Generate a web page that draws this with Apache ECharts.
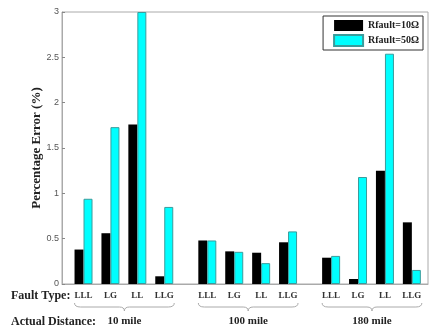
<!DOCTYPE html>
<html><head><meta charset="utf-8">
<script src="https://cdn.jsdelivr.net/npm/echarts@6/dist/echarts.min.js"></script>
<style>html,body{margin:0;padding:0;background:#fff}#c{width:431px;height:331px}</style>
</head><body><div id="c"></div>
<script>
const faultTypes = ['LLL', 'LG', 'LL', 'LLG'];
const distances = ['10 mile', '100 mile', '180 mile'];
const seriesNames = ['Rfault=10Ω', 'Rfault=50Ω'];
const r10 = [0.38, 0.56, 1.76, 0.085, 0.48, 0.36, 0.345, 0.46, 0.29, 0.055, 1.25, 0.68];
const r50 = [0.94, 1.73, 3.0, 0.85, 0.48, 0.355, 0.23, 0.58, 0.31, 1.18, 2.54, 0.155];
const yTicks = [0, 0.5, 1, 1.5, 2, 2.5, 3];

// layout of category slots (units on the x scale)
const groupStep = 4.6;
const pos = [];
const labelOf = [];
distances.forEach((d, g) => faultTypes.forEach((f, i) => { pos.push(+(1 + g * groupStep + i).toFixed(2)); labelOf.push(f); }));

const serif = 'Liberation Serif';
const chart = echarts.init(document.getElementById('c'));
chart.setOption({
  animation: false,
  grid: { left: 62, top: 12, right: 0, bottom: 47, show: true, borderColor: '#aaa', borderWidth: 1 },
  legend: {
    data: seriesNames, orient: 'vertical', right: 8, top: 16, icon: 'rect',
    itemWidth: 29, itemHeight: 11, itemGap: 3, padding: [4, 4, 3, 10],
    borderColor: '#333', borderWidth: 1, backgroundColor: '#fff',
    textStyle: { fontFamily: serif, fontWeight: 'bold', fontSize: 10, color: '#222' }
  },
  xAxis: {
    type: 'value', min: 0.2, max: 13.8, interval: 0.2,
    splitLine: { show: false },
    axisLine: { lineStyle: { color: '#aaa' } },
    axisTick: { show: false },
    axisLabel: {
      margin: 7, color: '#333', fontFamily: serif, fontWeight: 'bold', fontSize: 9,
      showMinLabel: true, showMaxLabel: true, hideOverlap: false,
      formatter: v => { const k = pos.findIndex(p => Math.abs(p - v) < 0.01); return k >= 0 ? labelOf[k] : ''; }
    }
  },
  yAxis: {
    type: 'value', min: 0, max: 3, interval: 0.5,
    name: 'Percentage Error (%)', nameLocation: 'middle', nameGap: 19, nameMoveOverlap: false,
    nameTextStyle: { fontFamily: serif, fontWeight: 'bold', fontSize: 13, color: '#222' },
    splitLine: { show: false },
    axisLine: { lineStyle: { color: '#aaa' } },
    axisTick: { inside: true, length: 3, lineStyle: { color: '#888' } },
    axisLabel: { color: '#555', fontFamily: 'Liberation Sans', fontSize: 9, margin: 3,
      formatter: v => yTicks.includes(v) ? String(v) : '' }
  },
  series: [
    { name: seriesNames[0], type: 'bar', barWidth: 9, barGap: '0%',
      data: pos.map((p, i) => [p, r10[i]]), itemStyle: { color: '#000' } },
    { name: seriesNames[1], type: 'bar', barWidth: 9, barGap: '0%',
      data: pos.map((p, i) => [p, r50[i]]), itemStyle: { color: '#00ffff', borderColor: '#3a9c9c', borderWidth: 1 } }
  ]
});

// annotations: row headings, braces and distance labels
const elements = [];
const txt = (s, x, y, align, size) => ({ type: 'text', x, y, style: { text: s, align: align || 'left', verticalAlign: 'middle', font: 'bold ' + (size || 12) + 'px ' + serif, fill: '#222' } });
const y0 = chart.convertToPixel({ gridIndex: 0 }, [1, 0])[1];
elements.push(txt('Fault Type:', 11, y0 + 12));
elements.push(txt('Actual Distance:', 11, y0 + 38));
const stroke = { stroke: '#aaa', lineWidth: 1, fill: null };
distances.forEach((d, g) => {
  const first = chart.convertToPixel({ gridIndex: 0 }, [pos[g * 4], 0])[0];
  const last = chart.convertToPixel({ gridIndex: 0 }, [pos[g * 4 + 3], 0])[0];
  const a = first - 9, b = last + 10, m = (a + b) / 2;
  const t = y0 + 19, mid = y0 + 23, bot = y0 + 27;
  elements.push({ type: 'bezierCurve', shape: { x1: a, y1: t, x2: a + 6, y2: mid, cpx1: a, cpy1: mid }, style: stroke });
  elements.push({ type: 'line', shape: { x1: a + 6, y1: mid, x2: m - 5, y2: mid }, style: stroke });
  elements.push({ type: 'bezierCurve', shape: { x1: m - 5, y1: mid, x2: m, y2: bot, cpx1: m, cpy1: mid }, style: stroke });
  elements.push({ type: 'bezierCurve', shape: { x1: m, y1: bot, x2: m + 5, y2: mid, cpx1: m, cpy1: mid }, style: stroke });
  elements.push({ type: 'line', shape: { x1: m + 5, y1: mid, x2: b - 6, y2: mid }, style: stroke });
  elements.push({ type: 'bezierCurve', shape: { x1: b - 6, y1: mid, x2: b, y2: t, cpx1: b, cpy1: mid }, style: stroke });
  elements.push(txt(d, m, y0 + 37, 'center', 11));
});
chart.setOption({ graphic: { elements } });
</script></body></html>
